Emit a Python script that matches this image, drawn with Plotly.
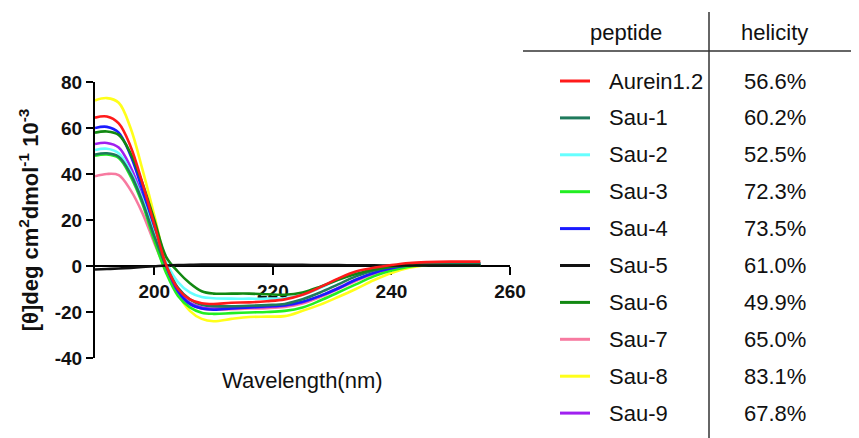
import plotly.graph_objects as go

# The page body adds an 8 px margin; the figure is sized and placed so that
# its contents land at the reference's pixel positions.
OFF = 8
W, H = 859 - OFF, 438 - OFF

# ---------------- data ----------------
wavelength = [190, 192, 194, 196, 198, 200, 202, 204, 206, 208, 210, 213, 216,
              219, 222, 225, 228, 231, 234, 237, 240, 243, 246, 250, 255]

aurein12 = [64.5, 65, 62, 52, 36, 18, 0.5, -10, -14.5, -16.2, -16.5, -16, -15.8,
            -15.3, -14.5, -12.5, -9.2, -5.5, -2.4, -0.8, 0.4, 1.3, 1.7, 1.9, 1.9]
sau1 = [48.5, 49, 47.5, 40, 28, 13, 0, -9.5, -14.5, -16.8, -17.5, -17.5, -17.3,
        -17, -16.5, -14.5, -11.5, -8, -4.5, -2, -0.3, 0.6, 1.0, 1.1, 1.1]
sau2 = [50.4, 51, 49, 41, 29, 14, 1.5, -7, -11.5, -13.5, -14, -14.2, -14.2,
        -14.2, -14, -12.5, -9.5, -6, -3, -1, 0.2, 0.9, 1.1, 1.2, 1.2]
sau3 = [48, 48.5, 47, 39, 27, 11, -3, -13, -18, -20.3, -20.8, -20.5, -20.2,
        -20, -19.5, -18, -15, -11.5, -8, -4.5, -2, -0.3, 0.6, 0.8, 0.8]
sau4 = [60, 60.5, 58, 48, 33, 16, 0, -11, -16.5, -18.5, -19, -18.5, -18,
        -17.5, -17, -15.5, -13, -9.8, -6, -3, -1, 0.3, 0.9, 1.0, 1.0]
sau5 = [-1.5, -1.3, -1.1, -0.8, -0.4, -0.1, 0.2, 0.4, 0.5, 0.6, 0.6, 0.6, 0.6,
        0.6, 0.5, 0.5, 0.4, 0.4, 0.3, 0.3, 0.2, 0.2, 0.2, 0.2, 0.2]
sau6 = [58, 58.5, 57, 49, 36, 20, 4, -2.5, -7.5, -11, -12, -12, -12,
        -12.3, -12.5, -11.5, -9, -6, -3.5, -1.5, -0.3, 0.2, 0.3, 0.3, 0.3]
sau7 = [39, 40, 39.5, 33, 23, 10, -2, -12, -16.5, -18.5, -19, -18.8, -18.5,
        -18.3, -17.8, -16.3, -13.5, -10, -6.5, -3.5, -1.3, 0.2, 0.8, 0.9, 0.9]
sau8 = [72, 73, 71, 60, 42, 22, 1, -12, -19.5, -23, -24, -23, -22.2,
        -22, -21.8, -19.5, -16.8, -13.5, -10, -6.2, -3, -0.8, 0.5, 0.9, 1.0]
sau9 = [53, 53.5, 51.5, 43, 30, 14, -0.5, -11, -16, -18, -18.5, -18.3, -18,
        -17.8, -17.3, -15.8, -13, -9.5, -6, -3, -1, 0.3, 0.8, 0.9, 0.9]

peptides = ["Aurein1.2", "Sau-1", "Sau-2", "Sau-3", "Sau-4",
            "Sau-5", "Sau-6", "Sau-7", "Sau-8", "Sau-9"]
helicity = ["56.6%", "60.2%", "52.5%", "72.3%", "73.5%",
            "61.0%", "49.9%", "65.0%", "83.1%", "67.8%"]
series = [aurein12, sau1, sau2, sau3, sau4, sau5, sau6, sau7, sau8, sau9]
colors = ["#ff1a1a", "#1f7a5c", "#66ffff", "#22ee22", "#1a1aff",
          "#111111", "#118811", "#f77aa0", "#ffff1a", "#a020f0"]

x_ticks = [200, 220, 240, 260]
y_ticks = [-40, -20, 0, 20, 40, 60, 80]
y_ticktext = ["-40", "-20", "0", "20", "40", "60", "80"]

# ---------------- layout helpers (reference pixel -> paper) ----------------
def px(x):
    return (x - OFF) / W

def py(y):
    return 1 - (y - OFF) / H

plot_l, plot_r, plot_t, plot_b = 95, 510, 82, 358
ymin, ymax = -40, 80
ydom = [py(plot_b), py(plot_t)]
x_axis_pos = ydom[0] + (ydom[1] - ydom[0]) * (0 - ymin) / (ymax - ymin)

FONT = "Arial, Liberation Sans, sans-serif"
TXT = "#111111"

fig = go.Figure()
draw_order = [8, 7, 9, 3, 4, 2, 1, 6, 5, 0]
for i in draw_order:
    fig.add_trace(go.Scatter(
        x=wavelength, y=series[i], mode="lines", name=peptides[i],
        line=dict(color=colors[i], width=2.6, shape="spline", smoothing=1.0),
        showlegend=False, hoverinfo="skip"))

fig.update_layout(
    width=W, height=H,
    margin=dict(l=0, r=0, t=0, b=0),
    paper_bgcolor="white", plot_bgcolor="white",
    font=dict(family=FONT, color=TXT),
    xaxis=dict(
        domain=[px(plot_l), px(plot_r)], range=[190, 260],
        anchor="free", position=x_axis_pos,
        tickvals=x_ticks, ticks="outside", ticklen=8, tickwidth=2,
        tickcolor="black", showline=True, linewidth=2, linecolor="black",
        showgrid=False, zeroline=False, layer="below traces",
        tickfont=dict(family=FONT, size=19, weight="bold", color=TXT),
        automargin=False),
    yaxis=dict(
        domain=ydom, range=[ymin, ymax],
        tickvals=y_ticks, ticktext=y_ticktext, ticks="outside", ticklen=7,
        tickwidth=2, tickcolor="black", showline=True, linewidth=2,
        linecolor="black", showgrid=False, zeroline=False, layer="below traces",
        tickfont=dict(family=FONT, size=19, weight="bold", color=TXT),
        title=dict(text="[θ]deg cm<sup>2</sup>dmol<sup>-1</sup> 10<sup>-3</sup>",
                   font=dict(family=FONT, size=22, weight="bold", color=TXT),
                   standoff=10),
        automargin=False),
)

annotations = []
shapes = []

# x axis title
annotations.append(dict(
    text="Wavelength(nm)", x=px((plot_l + plot_r) / 2), y=py(380),
    xref="paper", yref="paper", xanchor="center", yanchor="middle",
    showarrow=False, font=dict(family=FONT, size=22, color=TXT)))

# table frame
shapes.append(dict(type="line", xref="paper", yref="paper",
                   x0=px(709), x1=px(709), y0=py(12), y1=py(440),
                   line=dict(color="#333333", width=1.5)))
shapes.append(dict(type="line", xref="paper", yref="paper",
                   x0=px(523), x1=px(862), y0=py(51), y1=py(51),
                   line=dict(color="#333333", width=1.5)))

annotations.append(dict(text="peptide", x=px(626), y=py(32), xref="paper",
                        yref="paper", xanchor="center", yanchor="middle",
                        showarrow=False, font=dict(family=FONT, size=22, color=TXT)))
annotations.append(dict(text="helicity", x=px(774), y=py(32), xref="paper",
                        yref="paper", xanchor="center", yanchor="middle",
                        showarrow=False, font=dict(family=FONT, size=22, color=TXT)))

row0, row_step = 81, 36.9
for i, name in enumerate(peptides):
    yy = row0 + i * row_step
    shapes.append(dict(type="line", xref="paper", yref="paper",
                       x0=px(560), x1=px(590), y0=py(yy), y1=py(yy),
                       line=dict(color=colors[i], width=3)))
    annotations.append(dict(text=name, x=px(607), y=py(yy), xref="paper",
                            yref="paper", xanchor="left", yanchor="middle",
                            showarrow=False,
                            font=dict(family=FONT, size=22, color=TXT)))
    annotations.append(dict(text=helicity[i], x=px(742), y=py(yy), xref="paper",
                            yref="paper", xanchor="left", yanchor="middle",
                            showarrow=False,
                            font=dict(family=FONT, size=22, color=TXT)))

fig.update_layout(annotations=annotations, shapes=shapes)
fig.write_html("out.html", config={"displayModeBar": False})
